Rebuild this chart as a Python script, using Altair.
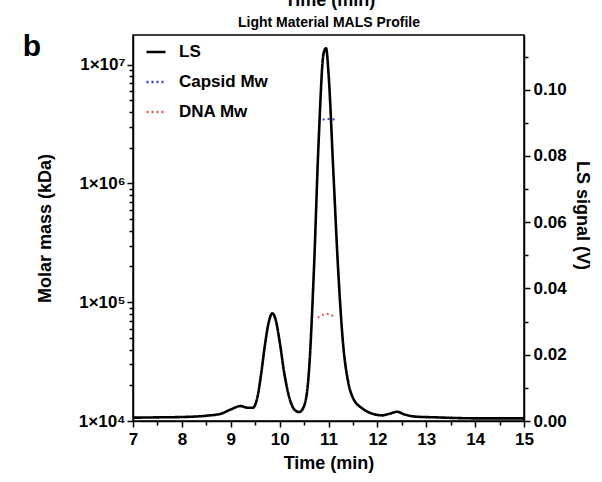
import altair as alt
import pandas as pd

# ---------------- data ----------------
time_min = [7.0, 7.5, 8.0, 8.5, 8.8, 9.0, 9.2, 9.35, 9.45, 9.55, 9.62, 9.7, 9.78, 9.85,
            9.92, 10.0, 10.1, 10.2, 10.3, 10.4, 10.5, 10.6, 10.7, 10.8, 10.9, 10.95,
            11.0, 11.1, 11.2, 11.3, 11.4, 11.5, 11.7, 11.9, 12.1, 12.25, 12.4, 12.55,
            12.8, 13.2, 13.4, 14.0, 15.0]
ls_signal = [0.0010, 0.0011, 0.0012, 0.0016, 0.0022, 0.0035, 0.0045, 0.0040, 0.0040, 0.0075,
             0.0140, 0.0230, 0.0300, 0.0325, 0.0305, 0.0240, 0.0140, 0.0070, 0.0035, 0.0027,
             0.0045, 0.0150, 0.0450, 0.0850, 0.1110, 0.1125, 0.1050, 0.0750, 0.0450, 0.0230,
             0.0120, 0.0070, 0.0037, 0.0022, 0.0017, 0.0022, 0.0028, 0.0020, 0.0013, 0.0011,
             0.0010, 0.0008, 0.0008]

capsid_time = [10.88, 10.95, 11.02, 11.08, 11.14]
capsid_mw = [3.45e6, 3.48e6, 3.50e6, 3.48e6, 3.45e6]

dna_time = [10.78, 10.86, 10.95, 11.04, 11.12]
dna_mw = [7.4e4, 7.8e4, 8.0e4, 7.9e4, 7.5e4]

series_names = ["LS", "Capsid Mw", "DNA Mw"]
series_colors = ["#000000", "#3b3bd6", "#e05a5a"]
series_dash = [[1, 0], [2, 3], [2, 3]]

x_ticks = [7 + 0.5 * i for i in range(17)]
ls_ticks = [round(0.01 * i, 2) for i in range(12)]
mw_ticks = [k * 10 ** d for d in range(4, 7) for k in range(1, 10)] + [1e7]

# ---------------- frames ----------------
ls_df = pd.DataFrame({"t": time_min, "v": ls_signal, "series": "LS"})
mw_df = pd.concat([
    pd.DataFrame({"t": capsid_time, "mw": capsid_mw, "series": "Capsid Mw"}),
    pd.DataFrame({"t": dna_time, "mw": dna_mw, "series": "DNA Mw"}),
])

FONT = "Liberation Sans"

legend = alt.Legend(
    title=None, orient="none", legendX=12, legendY=6,
    symbolType="stroke", symbolSize=361, symbolStrokeWidth=2.5,
    labelFont=FONT, labelFontSize=17, labelFontWeight="bold", labelColor="black",
    rowPadding=11, labelOffset=12, padding=0,
)
color = alt.Color("series:N", scale=alt.Scale(domain=series_names, range=series_colors), legend=legend)
dash = alt.StrokeDash("series:N", scale=alt.Scale(domain=series_names, range=series_dash), legend=legend)

x_enc = alt.X(
    "t:Q",
    scale=alt.Scale(domain=[7, 15], nice=False, zero=False),
    axis=alt.Axis(
        title="Time (min)", values=x_ticks,
        labelExpr="datum.value % 1 === 0 ? format(datum.value, 'd') : ''",
        tickSize={"condition": {"test": "datum.value % 1 === 0", "value": 6}, "value": 4},
        labelFlush=False, labelOverlap=False, labelPadding=4, titlePadding=7,
    ),
)

decade_test = "abs(log(datum.value)/LN10 - round(log(datum.value)/LN10)) < 0.001"
mw_layer = alt.Chart(mw_df).mark_line(strokeWidth=2).encode(
    x=x_enc,
    y=alt.Y(
        "mw:Q",
        scale=alt.Scale(type="log", domain=[1e4, 1.78e7], nice=False),
        axis=alt.Axis(
            title="Molar mass (kDa)", values=mw_ticks, orient="left",
            labelExpr=decade_test + " ? '1×10' + ['⁰','¹','²','³','⁴','⁵','⁶','⁷','⁸'][round(log(datum.value)/LN10)] : ''",
            tickSize={"condition": {"test": decade_test, "value": 6}, "value": 4},
            labelOverlap=False, labelPadding=2, labelFlush=False,
            titleX=-88, titleY=193, titleAlign="center", titleBaseline="middle",
        ),
    ),
    color=color, strokeDash=dash, detail="series:N",
)

ls_layer = alt.Chart(ls_df).mark_line(strokeWidth=2.6, interpolate="monotone").encode(
    x=x_enc,
    y=alt.Y(
        "v:Q",
        scale=alt.Scale(domain=[0, 0.1165], nice=False, zero=False),
        axis=alt.Axis(
            title="LS signal (V)", orient="right", values=ls_ticks,
            labelExpr="abs(datum.value*50 - round(datum.value*50)) < 0.001 ? format(datum.value, '.2f') : ''",
            tickSize={"condition": {"test": "abs(datum.value*50 - round(datum.value*50)) < 0.001", "value": 6}, "value": 4},
            labelOverlap=False, labelPadding=3, labelFlush=False,
            titleX=57, titleY=180, titleAlign="center", titleBaseline="middle",
        ),
    ),
    color=color, strokeDash=dash,
)

dummy = pd.DataFrame({"a": [0]})
b_label = alt.Chart(dummy).mark_text(
    font=FONT, fontSize=30, fontWeight="bold", color="black", align="center", baseline="middle"
).encode(x=alt.value(-101), y=alt.value(12), text=alt.value("b"))

top_cut = alt.Chart(dummy).mark_text(
    font=FONT, fontSize=18, fontWeight="bold", color="black", align="center", baseline="alphabetic"
).encode(x=alt.value(197), y=alt.value(-29), text=alt.value("Time (min)"))

title_text = alt.Chart(dummy).mark_text(
    font=FONT, fontSize=14, fontWeight="bold", color="black", align="center", baseline="middle"
).encode(x=alt.value(196), y=alt.value(-12), text=alt.value("Light Material MALS Profile"))

chart = alt.layer(mw_layer, ls_layer, b_label, top_cut, title_text).resolve_scale(
    y="independent"
).properties(
    width=391, height=386,
    autosize=alt.AutoSizeParams(type="none"),
    padding={"left": 133, "top": 35, "right": 78, "bottom": 61},
).configure_view(
    stroke="black", strokeWidth=1.5
).configure_axis(
    grid=False, domainColor="black", domainWidth=1.5, tickColor="black", tickWidth=1.5,
    labelFont=FONT, labelFontSize=17, labelFontWeight="bold", labelColor="black",
    titleFont=FONT, titleFontSize=18, titleFontWeight="bold", titleColor="black",
)

chart.save("out.html", embed_options={"renderer": "svg", "actions": False})
